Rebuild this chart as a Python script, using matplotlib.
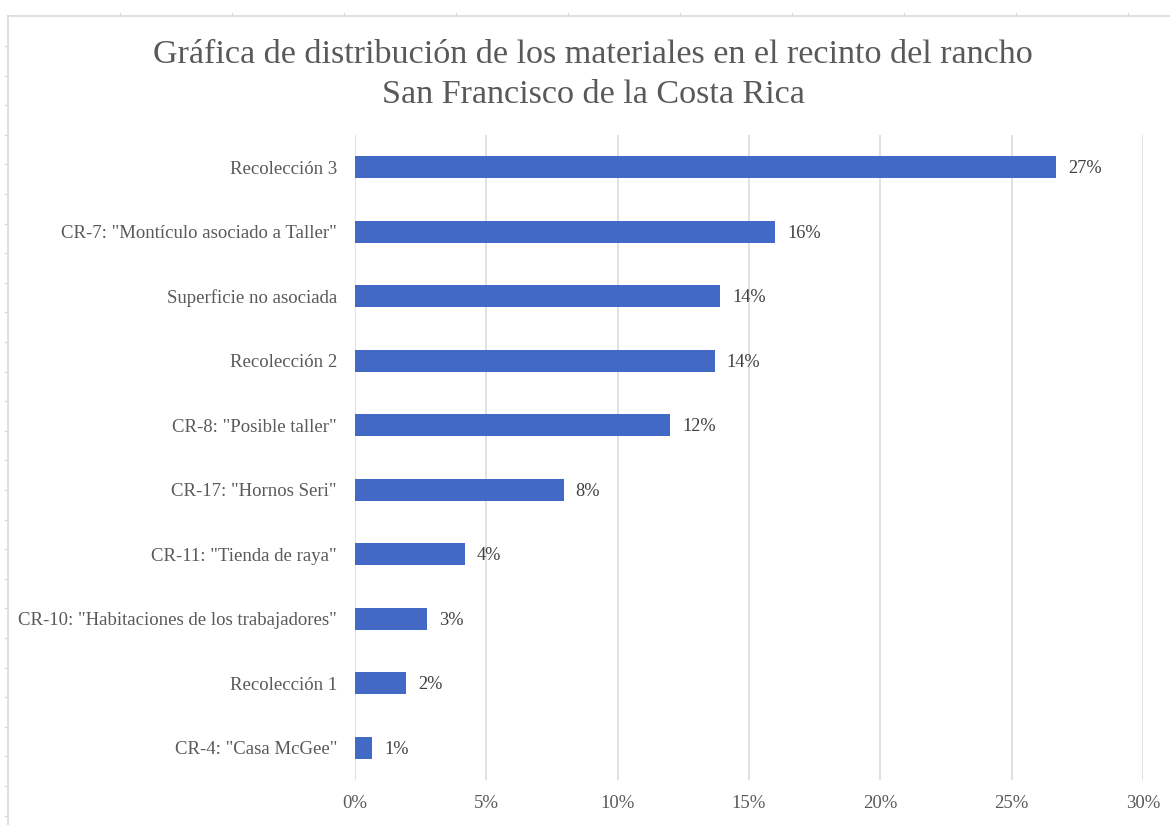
import numpy as np
from matplotlib import pyplot as plt
from matplotlib.lines import Line2D
from matplotlib.ticker import PercentFormatter

categories = [
    'Recolección 3',
    'CR-7: "Montículo asociado a Taller"',
    'Superficie no asociada',
    'Recolección 2',
    'CR-8: "Posible taller"',
    'CR-17: "Hornos Seri"',
    'CR-11: "Tienda de raya"',
    'CR-10: "Habitaciones de los trabajadores"',
    'Recolección 1',
    'CR-4: "Casa McGee"',
]
values = [26.7, 16.0, 13.9, 13.7, 12.0, 7.95, 4.2, 2.75, 1.95, 0.65]
labels = ['27%', '16%', '14%', '14%', '12%', '8%', '4%', '3%', '2%', '1%']
xticks = [0, 5, 10, 15, 20, 25, 30]

plt.rcParams['font.family'] = ['Liberation Serif', 'DejaVu Serif']
text_col = '#595959'
bar_col = '#4169C5'
grid_col = '#d9d9d9'

fig = plt.figure(figsize=(11.7, 8.25), dpi=100)
ax = fig.add_axes([0.3034, 0.0545, 0.6735, 0.7819])

y = np.arange(len(categories))
ax.barh(y, values, height=0.34, color=bar_col, zorder=3)
for yi, v, lab in zip(y, values, labels):
    ax.text(v + 0.45, yi + 0.02, lab, va='center', ha='left', fontsize=13.2, color='#404040')

ax.set_yticks(y)
ax.set_yticklabels(categories)
ax.set_ylim(9.5, -0.5)
ax.set_xlim(0, 30)
ax.set_xticks(xticks)
ax.xaxis.set_major_formatter(PercentFormatter(decimals=0))
ax.tick_params(axis='both', length=0, labelsize=13.5, labelcolor=text_col)
ax.tick_params(axis='y', pad=13)
ax.tick_params(axis='x', pad=11)
ax.grid(axis='x', color=grid_col, linewidth=1.1, zorder=0)
for s in ax.spines.values():
    s.set_visible(False)

fig.text(0.507, 0.909, 'Gráfica de distribución de los materiales en el recinto del rancho\nSan Francisco de la Costa Rica',
         ha='center', va='center', fontsize=24.6, color=text_col, linespacing=1.4)

# light frame round the chart
W, H = 1170, 825
fx, fy = 8 / W, 1 - 16 / H
fig.add_artist(Line2D([fx, 1], [fy, fy], color=grid_col, lw=1.2, transform=fig.transFigure))
fig.add_artist(Line2D([fx, fx], [0, fy], color=grid_col, lw=1.2, transform=fig.transFigure))
for ty in np.arange(16 + 30, H, 29.6):
    fig.add_artist(Line2D([fx - 3 / W, fx], [1 - ty / H] * 2, color=grid_col, lw=1, transform=fig.transFigure))
for tx in np.arange(8 + 112, W, 112):
    fig.add_artist(Line2D([tx / W] * 2, [fy, fy + 3 / H], color=grid_col, lw=1, transform=fig.transFigure))

fig.savefig('out.png', dpi=100, facecolor='white')
